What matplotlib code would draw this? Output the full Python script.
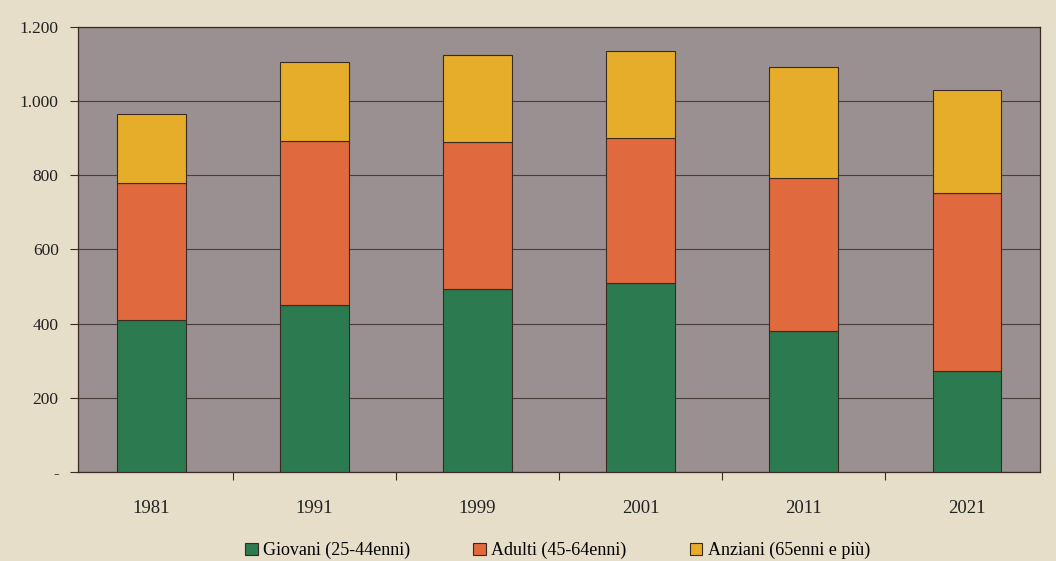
import numpy as np
import matplotlib.pyplot as plt
from matplotlib.ticker import FuncFormatter, FixedLocator

# Popolazione per classi di età (migliaia)
anni = ["1981", "1991", "1999", "2001", "2011", "2021"]
giovani = [410, 450, 493, 510, 380, 272]
adulti = [370, 442, 397, 390, 413, 480]
anziani = [185, 213, 234, 234, 299, 278]

etichette = ["Giovani (25-44enni)", "Adulti (45-64enni)", "Anziani (65enni e più)"]
colori = ["#2c7a4f", "#e0693d", "#e5ad2a"]

plt.rcParams["font.family"] = ["Liberation Serif", "DejaVu Serif"]

fig = plt.figure(figsize=(10.56, 5.61), dpi=100, facecolor="#e7dec9")
ax = fig.add_axes([0.074, 0.159, 0.911, 0.793])
ax.set_facecolor("#9b9091")

x = np.arange(len(anni))
base = np.zeros(len(anni))
for serie, col, lab in zip([giovani, adulti, anziani], colori, etichette):
    ax.bar(x, serie, width=0.42, bottom=base, color=col, edgecolor="#3a2a22",
           linewidth=0.8, label=lab, zorder=3)
    base += np.array(serie)

ax.set_xlim(-0.45, len(anni) - 0.55)
ax.set_ylim(0, 1200)
ax.set_yticks(np.arange(0, 1201, 200))

def fmt_migliaia(v, pos):
    if v == 0:
        return "-"
    return f"{int(v):,}".replace(",", ".")

ax.yaxis.set_major_formatter(FuncFormatter(fmt_migliaia))
ax.yaxis.grid(True, color="#4a3c38", linewidth=0.8, zorder=1)

# categorie al centro, tacche tra le colonne
ax.set_xticks(x)
ax.set_xticklabels(anni)
ax.xaxis.set_minor_locator(FixedLocator(np.arange(-0.5, len(anni), 1.0)))
ax.tick_params(axis="x", which="major", length=0, pad=20, labelsize=13.5, colors="#222222")
ax.tick_params(axis="x", which="minor", length=6, color="#3a2a22", width=0.8)
ax.tick_params(axis="y", length=6, color="#3a2a22", width=0.8, pad=8,
               labelsize=12.5, labelcolor="#222222")

for s in ax.spines.values():
    s.set_color("#3a2a22")
    s.set_linewidth(0.9)

fig.legend(loc="lower center", bbox_to_anchor=(0.528, -0.026), ncol=3, frameon=False,
           fontsize=13, handlelength=0.7, handleheight=0.7, handletextpad=0.3,
           columnspacing=3.5)

fig.savefig("out.png", dpi=100, facecolor=fig.get_facecolor())
